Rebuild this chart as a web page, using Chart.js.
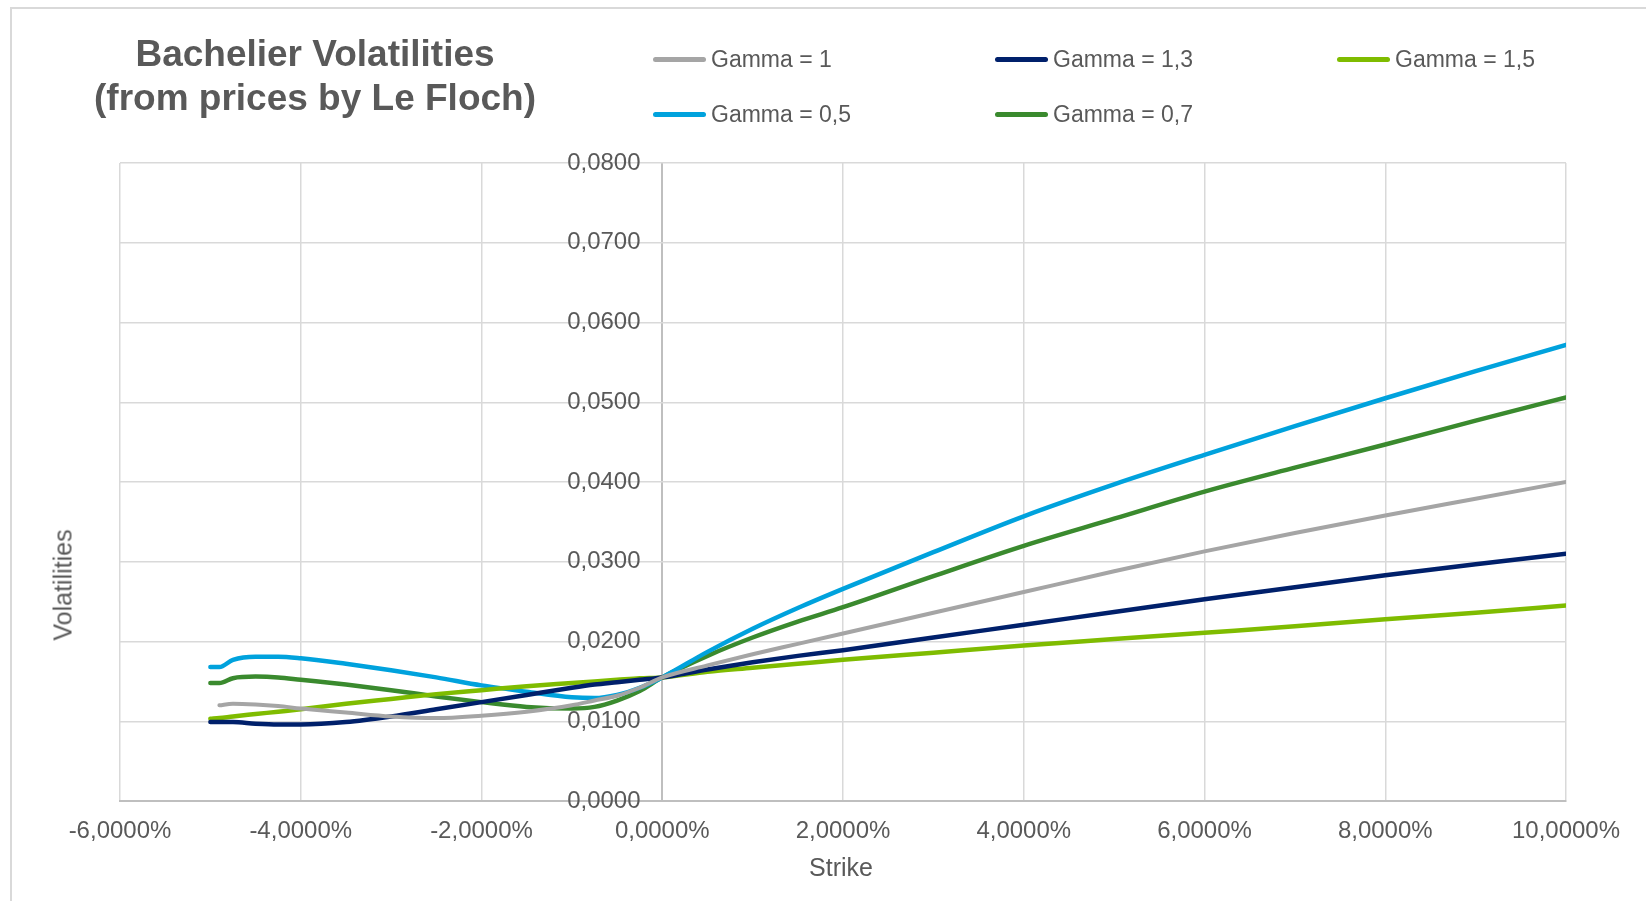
<!DOCTYPE html>
<html>
<head>
<meta charset="utf-8">
<script src="https://cdn.jsdelivr.net/npm/chart.js@4.4.1/dist/chart.umd.min.js"></script>
<style>
    body { margin: 0; background: #fff; font-family: "Liberation Sans", Arial, sans-serif; color: #595959; }
    #contenedor { position: relative; width: 1646px; height: 901px; overflow: hidden; }
    #marco { position: absolute; left: 10px; top: 7px; width: 1700px; height: 1000px; border-left: 2px solid #d9d9d9; border-top: 2px solid #d9d9d9; }
    #grafico { position: absolute; left: 0; top: 0; }
    #titulo { position: absolute; left: 15px; top: 32px; width: 600px; text-align: center; font-weight: bold; font-size: 37px; line-height: 44px; }
    .leyenda { position: absolute; display: flex; align-items: center; font-size: 23px; white-space: nowrap; }
    .leyenda span.linea { display: inline-block; width: 53px; height: 5px; border-radius: 3px; margin-right: 5px; }
    #ejeX { position: absolute; left: 741px; top: 853px; width: 200px; text-align: center; font-size: 25px; }
    #ejeY { position: absolute; left: 63px; top: 585px; font-size: 25px; transform: translate(-50%, -50%) rotate(-90deg); white-space: nowrap; }
</style>
</head>
<body>
<div id="contenedor">
    <div id="marco"></div>
    <canvas id="grafico" width="1646" height="901"></canvas>
    <div id="titulo">Bachelier Volatilities<br>(from prices by Le Floch)</div>
    <div id="leyendas"></div>
    <div id="ejeX">Strike</div>
    <div id="ejeY">Volatilities</div>
</div>
<script>
// strike in %
const strikes = [-5, -4.9, -4.75, -4.5, -4.25, -4, -3.5, -3, -2.5, -2, -1.5, -1, -0.75, -0.5, -0.25,
    0, 0.5, 1, 1.5, 2, 3, 4, 5, 6, 7, 8, 9, 10];

const gamma1 = [null, 0.0120, 0.0122, 0.0121, 0.0119, 0.0116, 0.0111, 0.0106, 0.0104, 0.0107, 0.0112, 0.0120, 0.0126, 0.0132, 0.0142,
    0.0155, 0.0170, 0.0184, 0.0197, 0.0210, 0.0236, 0.0262, 0.0288, 0.0313, 0.0336, 0.0358, 0.0379, 0.0400];
const gamma13 = [0.0099, 0.0099, 0.0099, 0.0097, 0.0096, 0.0096, 0.0099, 0.0106, 0.0115, 0.0124, 0.0133, 0.0142, 0.0146, 0.0149, 0.0152,
    0.0155, 0.0165, 0.0174, 0.0182, 0.0189, 0.0205, 0.0221, 0.0237, 0.0253, 0.0268, 0.0283, 0.0297, 0.0310];
const gamma15 = [0.0103, 0.0104, 0.0106, 0.0109, 0.0112, 0.0115, 0.0122, 0.0128, 0.0134, 0.0139, 0.0144, 0.0148, 0.0150, 0.0152, 0.0154,
    0.0155, 0.0162, 0.0167, 0.0172, 0.0177, 0.0186, 0.0195, 0.0203, 0.0211, 0.0219, 0.0228, 0.0236, 0.0245];
const gamma05 = [0.0168, 0.0168, 0.0177, 0.0181, 0.0181, 0.0179, 0.0172, 0.0164, 0.0155, 0.0145, 0.0137, 0.0130, 0.0129, 0.0133, 0.0142,
    0.0155, 0.0187, 0.0216, 0.0242, 0.0266, 0.0312, 0.0357, 0.0397, 0.0434, 0.0470, 0.0505, 0.0539, 0.0572];
const gamma07 = [0.0148, 0.0148, 0.0154, 0.0156, 0.0155, 0.0152, 0.0146, 0.0139, 0.0131, 0.0124, 0.0118, 0.0116, 0.0118, 0.0126, 0.0138,
    0.0155, 0.0182, 0.0205, 0.0225, 0.0243, 0.0282, 0.0320, 0.0354, 0.0388, 0.0418, 0.0447, 0.0477, 0.0506];

const nombres = ['Gamma = 1', 'Gamma = 1,3', 'Gamma = 1,5', 'Gamma = 0,5', 'Gamma = 0,7'];
const series = [gamma1, gamma13, gamma15, gamma05, gamma07];
const colores = ['#a5a5a5', '#00206b', '#7fbc00', '#00a2dd', '#3a8a2e'];
const anchos = [4, 4.5, 4.5, 4.5, 4.5];

const xTicks = { min: -6, max: 10, step: 2 };
const yTicks = { min: 0, max: 0.08, step: 0.01 };

function puntos(valores) {
    let res = [];
    strikes.forEach(function (s, i) {
        if (valores[i] !== null) res.push({ x: s, y: valores[i] });
    });
    return res;
}

let datasets = [];
series.forEach(function (valores, i) {
    datasets.push({
        label: nombres[i],
        data: puntos(valores),
        borderColor: colores[i],
        backgroundColor: colores[i],
        borderWidth: anchos[i],
        pointRadius: 0,
        cubicInterpolationMode: 'monotone',
        borderCapStyle: 'round',
        fill: false
    });
});

function formato(v) {
    return v.toFixed(4).replace('.', ',');
}

const fuente = { family: '"Liberation Sans", Arial, sans-serif', size: 24 };

const ctx = document.getElementById('grafico');
const grafico = new Chart(ctx, {
    type: 'line',
    data: { datasets: datasets },
    options: {
        responsive: false,
        animation: false,
        layout: { padding: { left: 120, right: 80, top: 163, bottom: 40 } },
        plugins: { legend: { display: false }, tooltip: { enabled: false } },
        scales: {
            x: {
                type: 'linear',
                min: xTicks.min,
                max: xTicks.max,
                ticks: {
                    stepSize: xTicks.step,
                    color: '#595959',
                    font: fuente,
                    padding: 16,
                    maxRotation: 0,
                    callback: function (v) { return formato(v) + '%'; }
                },
                grid: {
                    // la linea del 0% hace de eje vertical
                    color: function (c) { return c.tick && c.tick.value === 0 ? '#bfbfbf' : '#d9d9d9'; },
                    lineWidth: function (c) { return c.tick && c.tick.value === 0 ? 2 : 1.5; },
                    drawTicks: false
                },
                border: { color: '#bfbfbf', width: 2 },
                afterFit: function (scale) { scale.height = 60; }
            },
            y: {
                type: 'linear',
                // etiquetas un poco a la izquierda del eje en 0%
                position: { x: -0.24 },
                min: yTicks.min,
                max: yTicks.max,
                z: 1,
                ticks: {
                    stepSize: yTicks.step,
                    color: '#595959',
                    font: fuente,
                    callback: function (v) { return formato(v); }
                },
                grid: { color: '#d9d9d9', lineWidth: 1.5, drawTicks: false },
                border: { display: false },
                afterFit: function (scale) { scale.width = 0; }
            }
        }
    }
});

// leyenda en tres columnas
const columnas = [653, 995, 1337];
const filas = [59, 114];
const contLeyenda = document.getElementById('leyendas');
grafico.data.datasets.forEach(function (ds, i) {
    let item = document.createElement('div');
    item.className = 'leyenda';
    item.style.left = columnas[i % 3] + 'px';
    item.style.top = (filas[Math.floor(i / 3)] - 14) + 'px';
    item.style.height = '28px';
    item.innerHTML = '<span class="linea" style="background:' + ds.borderColor + '"></span>' + ds.label;
    contLeyenda.appendChild(item);
});
</script>
</body>
</html>
